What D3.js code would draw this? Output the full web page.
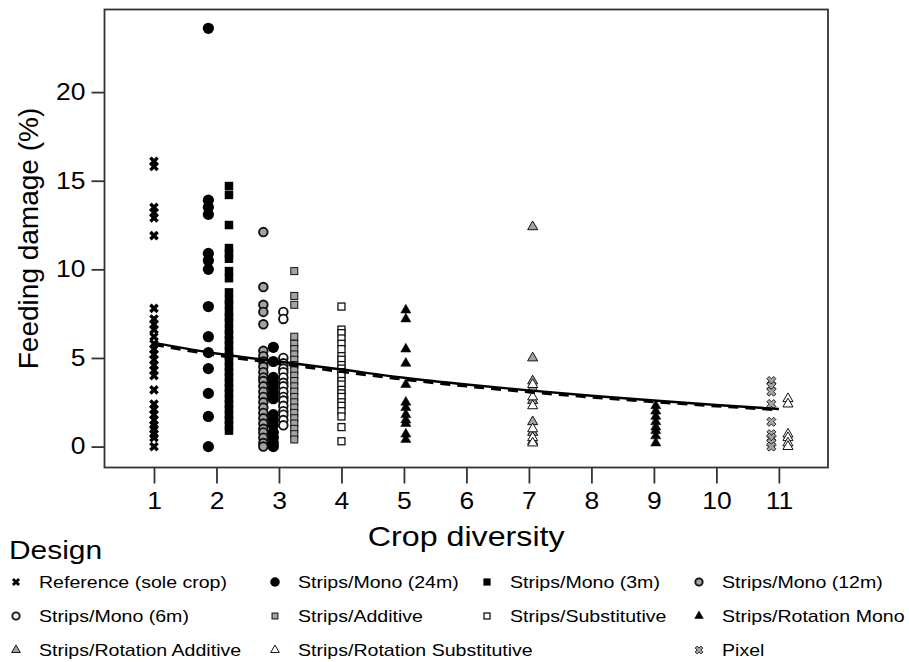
<!DOCTYPE html>
<html>
<head>
<meta charset="utf-8">
<script src="https://cdn.jsdelivr.net/npm/d3@7"></script>
<style>
  body { margin: 0; background: #fff; }
  text { font-family: "Liberation Sans", Arial, Helvetica, sans-serif; fill: #000; }
</style>
</head>
<body>
<svg id="chart" width="909" height="662"></svg>
<script>
// values
var designs = ['Reference (sole crop)', 'Strips/Mono (24m)', 'Strips/Mono (3m)', 'Strips/Mono (12m)',
               'Strips/Mono (6m)', 'Strips/Additive', 'Strips/Substitutive', 'Strips/Rotation Mono',
               'Strips/Rotation Additive', 'Strips/Rotation Substitutive', 'Pixel'];
var xTicks = [1, 2, 3, 4, 5, 6, 7, 8, 9, 10, 11];
var yTicks = [0, 5, 10, 15, 20];

// feeding damage (%) by design and crop diversity
var referenceDiv1   = [16.1, 15.8, 13.5, 13.2, 12.9, 11.9, 7.8, 7.2, 6.9, 6.6, 6.2, 5.8, 5.5, 5.2, 4.9, 4.6, 4.3, 4.0, 3.2, 2.4, 2.1, 1.8, 1.5, 1.2, 1.0, 0.7, 0.5, 0.0];
var mono24Div2      = [23.6, 13.9, 13.5, 13.1, 10.9, 10.5, 10.0, 7.9, 6.2, 5.3, 4.4, 3.0, 1.7, 0.0];
var mono3Div2       = [14.7, 14.2, 12.5, 11.2, 10.9, 10.6, 9.9, 9.5, 8.7, 8.3, 8.0, 7.6, 7.3, 7.0, 6.6, 6.3, 6.0, 5.7, 5.4, 5.1, 4.8, 4.5, 4.2, 3.9, 3.6, 3.3, 3.0, 2.7, 2.4, 2.1, 1.8, 1.5, 1.2, 0.9];
var mono12Div3      = [12.1, 9.0, 8.0, 7.6, 6.9, 5.4, 5.1, 4.8, 4.5, 4.2, 3.9, 3.7, 3.4, 3.1, 2.8, 2.5, 2.2, 1.9, 1.6, 1.3, 1.0, 0.8, 0.5, 0.2, 0.0];
var mono24Div3      = [5.6, 4.8, 3.9, 3.6, 3.3, 3.0, 2.7, 1.8, 1.5, 1.2, 0.8, 0.5, 0.2, 0.0];
var mono6Div3       = [7.6, 7.2, 5.0, 4.7, 4.4, 4.2, 3.9, 3.6, 3.4, 3.1, 2.8, 2.6, 2.3, 2.0, 1.8, 1.5, 1.2];
var additiveDiv3    = [9.9, 8.5, 8.0, 6.2, 5.8, 5.5, 5.2, 4.9, 4.6, 4.3, 4.0, 3.7, 3.4, 3.1, 2.8, 2.5, 2.2, 1.9, 1.6, 1.3, 1.0, 0.7, 0.4];
var substitutiveDiv4 = [7.9, 6.6, 6.4, 6.1, 5.8, 5.5, 5.1, 4.9, 4.6, 4.4, 4.2, 4.0, 3.7, 3.5, 3.2, 3.0, 2.8, 2.5, 2.3, 2.0, 1.7, 1.1, 0.3];
var rotMonoDiv5     = [7.7, 7.2, 5.5, 4.7, 3.5, 2.5, 2.2, 1.8, 1.5, 1.3, 0.7, 0.4];
var rotAdditiveDiv7 = [12.4, 5.0, 3.7, 3.3, 2.6, 1.4, 0.8, 0.3];
var rotSubstDiv7    = [3.5, 2.8, 2.3, 1.0, 0.5, 0.2];
var rotMonoDiv9     = [2.3, 2.0, 1.7, 1.4, 1.1, 0.9, 0.6, 0.2];
var pixelDiv11      = [3.7, 3.4, 3.1, 2.4, 1.4, 0.7, 0.5, 0.2, 0.0];
var rotSubstDiv11   = [2.7, 2.4, 0.7, 0.5, 0.2, 0.0];

// fitted curves (solid and dashed) at each diversity level
var fitDiversity = [1, 2, 3, 4, 5, 6, 7, 8, 9, 10, 11];
var fitSolid     = [5.85, 5.25, 4.8, 4.35, 3.88, 3.5, 3.17, 2.87, 2.6, 2.35, 2.12];
var fitDashed    = [5.75, 5.15, 4.68, 4.22, 3.78, 3.4, 3.07, 2.78, 2.52, 2.28, 2.06];

var groups = [
	{design: designs[0], diversity: 1, values: referenceDiv1},
	{design: designs[1], diversity: 2, values: mono24Div2},
	{design: designs[2], diversity: 2, values: mono3Div2},
	{design: designs[3], diversity: 3, values: mono12Div3},
	{design: designs[1], diversity: 3, values: mono24Div3},
	{design: designs[4], diversity: 3, values: mono6Div3},
	{design: designs[5], diversity: 3, values: additiveDiv3},
	{design: designs[6], diversity: 4, values: substitutiveDiv4},
	{design: designs[7], diversity: 5, values: rotMonoDiv5},
	{design: designs[8], diversity: 7, values: rotAdditiveDiv7},
	{design: designs[9], diversity: 7, values: rotSubstDiv7},
	{design: designs[7], diversity: 9, values: rotMonoDiv9},
	{design: designs[10], diversity: 11, values: pixelDiv11},
	{design: designs[9], diversity: 11, values: rotSubstDiv11}
];

// horizontal dodge of each design within a diversity level
var dodge = {
	'Strips/Mono (24m)|2': -0.13, 'Strips/Mono (3m)|2': 0.2,
	'Strips/Mono (12m)|3': -0.25, 'Strips/Mono (24m)|3': -0.09,
	'Strips/Mono (6m)|3': 0.07, 'Strips/Additive|3': 0.245,
	'Strips/Rotation Mono|5': 0.03, 'Strips/Rotation Additive|7': 0.06,
	'Strips/Rotation Substitutive|7': 0.06, 'Strips/Rotation Mono|9': 0.03,
	'Pixel|11': -0.12, 'Strips/Rotation Substitutive|11': 0.145
};

var GRAY = '#a3a3a3';
var styles = {
	'Reference (sole crop)':        {shape: 'x'},
	'Strips/Mono (24m)':            {shape: 'circle', r: 5.6, fill: '#000', sw: 0},
	'Strips/Mono (3m)':             {shape: 'square', s: 8.5, fill: '#000', sw: 0},
	'Strips/Mono (12m)':            {shape: 'circle', r: 4.3, fill: GRAY, sw: 1.9},
	'Strips/Mono (6m)':             {shape: 'circle', r: 4.3, fill: '#fff', sw: 1.9},
	'Strips/Additive':              {shape: 'square', s: 7, fill: GRAY, sw: 1},
	'Strips/Substitutive':          {shape: 'square', s: 7, fill: '#fff', sw: 1.3},
	'Strips/Rotation Mono':         {shape: 'triangle', fill: '#000', sw: 0.6},
	'Strips/Rotation Additive':     {shape: 'triangle', fill: GRAY, sw: 1},
	'Strips/Rotation Substitutive': {shape: 'triangle', fill: '#fff', sw: 1},
	'Pixel':                        {shape: 'pixel', fill: GRAY, sw: 0.8}
};

var svg = d3.select('#chart');
var panel = {left: 104.5, top: 9.5, right: 828, bottom: 467.5};

var x = d3.scaleLinear().domain([0.208, 11.786]).range([panel.left, panel.right]);
var y = d3.scaleLinear().domain([-1.18, 24.66]).range([panel.bottom, panel.top]);

// glyphs in the original are drawn a little wider than normal
function stretch(sel, k) {
	sel.each(function(){
		var w = this.getComputedTextLength();
		d3.select(this).attr('textLength', w * k).attr('lengthAdjust', 'spacingAndGlyphs');
	});
}

function drawSymbol(g, design, k) {
	var st = styles[design];
	if (st.shape === 'x') {
		var h = 3.6 * k;
		g.append('path')
			.attr('d', 'M' + (-h) + ',' + (-h) + 'L' + h + ',' + h + 'M' + (-h) + ',' + h + 'L' + h + ',' + (-h))
			.attr('stroke', '#000').attr('stroke-width', 3.4 * k).attr('fill', 'none');
	} else if (st.shape === 'circle') {
		g.append('circle').attr('r', st.r * k)
			.attr('fill', st.fill).attr('stroke', '#111').attr('stroke-width', st.sw);
	} else if (st.shape === 'square') {
		var s = st.s * k;
		g.append('rect').attr('x', -s / 2).attr('y', -s / 2).attr('width', s).attr('height', s)
			.attr('fill', st.fill).attr('stroke', '#111').attr('stroke-width', st.sw);
	} else if (st.shape === 'triangle') {
		g.append('path').attr('d', d3.symbol().type(d3.symbolTriangle).size(44 * k * k)())
			.attr('fill', st.fill).attr('stroke', '#111').attr('stroke-width', st.sw);
	} else if (st.shape === 'pixel') {
		g.append('path').attr('d', d3.symbol().type(d3.symbolCross).size(52 * k * k)())
			.attr('transform', 'rotate(45)')
			.attr('fill', st.fill).attr('stroke', '#111').attr('stroke-width', st.sw);
	}
}

// axes
var xAxis = svg.append('g')
	.attr('transform', 'translate(0,' + panel.bottom + ')')
	.call(d3.axisBottom(x).tickValues(xTicks).tickSize(16).tickPadding(9).tickFormat(d3.format('d')));
var yAxis = svg.append('g')
	.attr('transform', 'translate(' + panel.left + ',0)')
	.call(d3.axisLeft(y).tickValues(yTicks).tickSize(13).tickPadding(6));

[xAxis, yAxis].forEach(function(ax){
	ax.select('.domain').remove();
	ax.selectAll('.tick line').attr('stroke', '#333').attr('stroke-width', 1.8);
	ax.selectAll('.tick text').attr('font-size', 23).attr('font-family', '"Liberation Sans", Arial, sans-serif').attr('fill', '#000');
});
stretch(xAxis.selectAll('.tick text'), 1.15);
stretch(yAxis.selectAll('.tick text'), 1.15);

// points
var points = [];
groups.forEach(function(gr){
	gr.values.forEach(function(v){
		points.push({design: gr.design, diversity: gr.diversity, damage: v});
	});
});

var pointLayer = svg.append('g');
points.forEach(function(p){
	var off = dodge[p.design + '|' + p.diversity] || 0;
	var g = pointLayer.append('g')
		.attr('transform', 'translate(' + x(p.diversity + off) + ',' + y(p.damage) + ')');
	drawSymbol(g, p.design, 1);
});

// fitted curves
var line = d3.line().curve(d3.curveMonotoneX)
	.x(function(d){ return x(d[0]); })
	.y(function(d){ return y(d[1]); });

svg.append('path')
	.datum(fitDiversity.map(function(d, i){ return [d, fitDashed[i]]; }))
	.attr('d', line).attr('fill', 'none').attr('stroke', '#000')
	.attr('stroke-width', 2.6).attr('stroke-dasharray', '10,7');
svg.append('path')
	.datum(fitDiversity.map(function(d, i){ return [d, fitSolid[i]]; }))
	.attr('d', line).attr('fill', 'none').attr('stroke', '#000').attr('stroke-width', 2.4);

// panel border
svg.append('rect')
	.attr('x', panel.left).attr('y', panel.top)
	.attr('width', panel.right - panel.left).attr('height', panel.bottom - panel.top)
	.attr('fill', 'none').attr('stroke', '#333').attr('stroke-width', 1.8);

// axis titles
var xt = svg.append('text')
	.attr('x', (panel.left + panel.right) / 2).attr('y', 546)
	.attr('text-anchor', 'middle').attr('font-size', 28).text('Crop diversity');
stretch(xt, 1.15);

svg.append('text')
	.attr('transform', 'translate(38,' + ((panel.top + panel.bottom) / 2) + ') rotate(-90)')
	.attr('text-anchor', 'middle').attr('font-size', 28).text('Feeding damage (%)');

// legend
var dt = svg.append('text').attr('x', 9).attr('y', 559).attr('font-size', 26).text('Design');
stretch(dt, 1.15);

var legendCols = [16, 275, 487, 699];
var legendRows = [582, 616, 650];
var legendSlots = [0, 1, 2, 3, 4, 5, 6, 7, 8, 9, 11];

designs.forEach(function(d, i){
	var slot = legendSlots[i];
	var cx = legendCols[slot % 4], cy = legendRows[Math.floor(slot / 4)];
	var g = svg.append('g').attr('transform', 'translate(' + cx + ',' + cy + ')');
	drawSymbol(g, d, 0.85);
	var t = svg.append('text')
		.attr('x', cx + 23).attr('y', cy + 6)
		.attr('font-size', 17).text(d);
	stretch(t, 1.15);
});
</script>
</body>
</html>
